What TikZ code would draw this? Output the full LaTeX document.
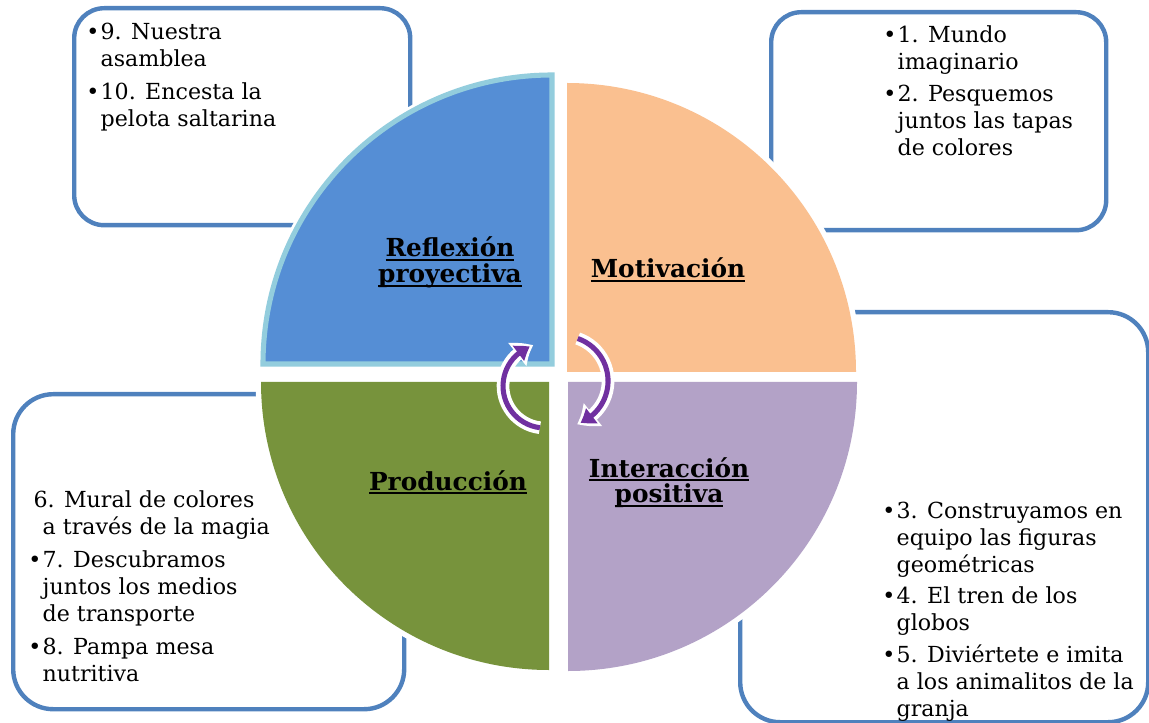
\documentclass[tikz,border=0pt]{standalone}
\usepackage{fontspec}
\setmainfont{DejaVu Serif}
\usetikzlibrary{arrows.meta,bending}
\definecolor{boxblue}{HTML}{4F81BD}
\definecolor{qblue}{HTML}{558ED5}
\definecolor{qblueb}{HTML}{93CDDD}
\definecolor{qorange}{HTML}{FAC090}
\definecolor{qpurple}{HTML}{B3A2C7}
\definecolor{qgreen}{HTML}{77933C}
\definecolor{arrpurple}{HTML}{7030A0}
\newcommand\myul[1]{\setbox0\hbox{#1}\rlap{\rule[-3pt]{\wd0}{1.2pt}}\box0}
\tikzset{
  box/.style={draw=boxblue, line width=3.3pt, rounded corners=22.5pt, fill=white, inner sep=0pt, anchor=north west},
  txt/.style={font=\fontsize{16.6}{20.25}\selectfont, inner sep=0pt, anchor=base west},
  lab/.style={font=\fontsize{18.6}{20.25}\selectfont\bfseries, inner sep=0pt, anchor=base},
  halo/.style={draw=white, line width=8pt},
  arrw/.style={draw=white, line width=9.5pt, -{Triangle[bend,length=14pt,width=21pt]}},
  arrp/.style={draw=arrpurple, line width=3.8pt, shorten >=2.8pt, -{Triangle[bend,length=10pt,width=13.5pt]}}
}
\begin{document}
\begin{tikzpicture}[x=0.75pt,y=-0.75pt]
\useasboundingbox (0,0) rectangle (1149,723);
% boxes
\node[box, minimum width=252pt, minimum height=162.75pt] (b1) at (72,6) {};
\node[box, minimum width=251.25pt, minimum height=163.5pt] (b2) at (769,10) {};
\node[box, minimum width=306pt, minimum height=307.5pt, rounded corners=30pt] (b3) at (738,310) {};
\node[box, minimum width=293.25pt, minimum height=236.25pt, rounded corners=30pt] (b4) at (11,392) {};
% quadrants
\path[halo] (567,372) -- ++(0,-289) arc[start angle=-90, end angle=0, radius=289] -- cycle;
\fill[qorange] (567,372) -- ++(0,-289) arc[start angle=-90, end angle=0, radius=289] -- cycle;
\path[halo] (568,382) -- ++(289,0) arc[start angle=0, end angle=90, radius=289] -- cycle;
\fill[qpurple] (568,382) -- ++(289,0) arc[start angle=0, end angle=90, radius=289] -- cycle;
\path[halo] (549,382) -- ++(0,288) arc[start angle=90, end angle=180, radius=288] -- cycle;
\fill[qgreen] (549,382) -- ++(0,288) arc[start angle=90, end angle=180, radius=288] -- cycle;
\path[halo] (552,364) -- ++(-289,0) arc[start angle=180, end angle=270, radius=289] -- cycle;
\filldraw[fill=qblue, draw=qblueb, line width=3.8pt] (552,364) -- ++(-289,0) arc[start angle=180, end angle=270, radius=289] -- cycle;
% labels
\node[lab] (l1) at (450,257) {\begin{tabular}[t]{@{}c@{}}\myul{Reflexión}\\[-0.8pt]\myul{proyectiva}\end{tabular}};
\node[lab] (l2) at (668,278) {\myul{Motivación}};
\node[lab] (l3) at (669,477) {\begin{tabular}[t]{@{}c@{}}\myul{Interacción}\\[-0.8pt]\myul{positiva}\end{tabular}};
\node[lab] (l4) at (448,490) {\myul{Producción}};
% box texts
\node[txt] (t1) at (86,40) {\begin{tabular}[t]{@{}l@{\hspace{1pt}}l@{}}\textbullet & 9. Nuestra\\ & asamblea\\[4.5pt] \textbullet & 10. Encesta la\\ & pelota saltarina\end{tabular}};
\node[txt] (t2) at (883,43) {\begin{tabular}[t]{@{}l@{\hspace{1pt}}l@{}}\textbullet & 1. Mundo\\ & imaginario\\[3.5pt] \textbullet & 2. Pesquemos\\ & juntos las tapas\\ & de colores\end{tabular}};
\node[txt] (t3) at (882,518) {\begin{tabular}[t]{@{}l@{\hspace{1pt}}l@{}}\textbullet & 3. Construyamos en\\ & equipo las figuras\\ & geométricas\\[3.5pt] \textbullet & 4. El tren de los\\ & globos\\[3.5pt] \textbullet & 5. Diviértete e imita\\ & a los animalitos de la\\ & granja\end{tabular}};
\node[txt] (t4) at (28,507) {\begin{tabular}[t]{@{}l@{\hspace{1pt}}l@{}}\multicolumn{2}{@{}l@{}}{\hspace{4pt}6. Mural de colores}\\ & a través de la magia\\[4.5pt] \textbullet & 7. Descubramos\\ & juntos los medios\\ & de transporte\\[4.5pt] \textbullet & 8. Pampa mesa\\ & nutritiva\end{tabular}};
% circular arrows
\coordinate (la) at (539.9,427.7);
\coordinate (ra) at (577.7,338.5);
\draw[arrw] (la) arc[start angle=97, end angle=254, radius=42];
\draw[arrp] (la) arc[start angle=97, end angle=254, radius=42];
\draw[arrw] (ra) arc[start angle=-71, end angle=72, radius=45];
\draw[arrp] (ra) arc[start angle=-71, end angle=72, radius=45];
\end{tikzpicture}
\end{document}
